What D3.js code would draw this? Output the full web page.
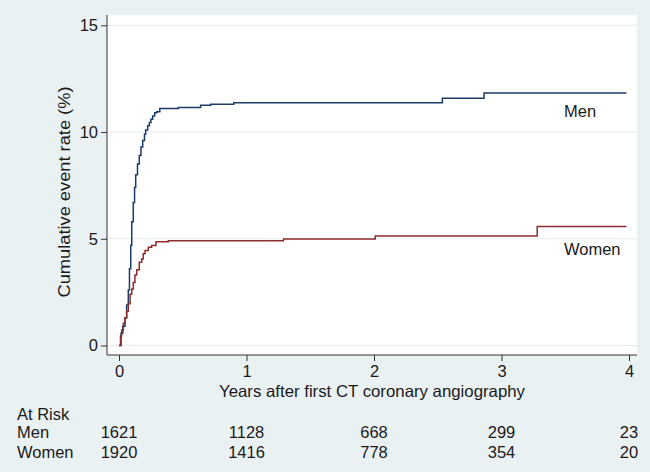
<!DOCTYPE html>
<html>
<head>
<meta charset="utf-8">
<script src="https://cdn.jsdelivr.net/npm/d3@7"></script>
<style>
  html, body { margin: 0; padding: 0; background: #eaf1f3; }
  svg { display: block; }
  text { font-family: "Liberation Sans", Arial, sans-serif; fill: #1a1a1a; }
</style>
</head>
<body>
<svg id="chart" width="650" height="472"></svg>
<script>
// ---- data ----
const menTimes  = [0, 0.016, 0.03, 0.047, 0.06, 0.073, 0.082, 0.092, 0.1, 0.112, 0.122, 0.131, 0.145, 0.159, 0.172, 0.186, 0.2, 0.209, 0.225, 0.238, 0.25, 0.264, 0.28, 0.296, 0.32, 0.465, 0.64, 0.72, 0.9, 2.536, 2.863, 3.98];
const menValues = [0, 0.57, 0.9, 1.3, 1.9, 2.6, 3.6, 4.7, 5.8, 6.7, 7.4, 8.0, 8.5, 8.9, 9.3, 9.6, 9.9, 10.1, 10.3, 10.45, 10.6, 10.75, 10.9, 10.95, 11.1, 11.15, 11.26, 11.3, 11.37, 11.58, 11.83, 11.83];
const womenTimes  = [0, 0.012, 0.021, 0.034, 0.047, 0.06, 0.073, 0.087, 0.1, 0.112, 0.125, 0.139, 0.159, 0.178, 0.19, 0.204, 0.23, 0.256, 0.29, 0.387, 1.29, 2.01, 3.28, 3.98];
const womenValues = [0, 0.45, 0.73, 1.04, 1.3, 1.6, 1.95, 2.4, 2.65, 2.95, 3.3, 3.55, 3.9, 4.05, 4.3, 4.45, 4.6, 4.68, 4.86, 4.91, 4.99, 5.13, 5.58, 5.58];
const yTicks = [0, 5, 10, 15];
const xTicks = [0, 1, 2, 3, 4];
const riskGroups = ["Men", "Women"];
const riskMen   = [1621, 1128, 668, 299, 23];
const riskWomen = [1920, 1416, 778, 354, 20];
const seriesNames = ["Men", "Women"];
const seriesColors = ["#1d3c6a", "#8e2b2b"];

// ---- layout ----
const svg = d3.select("#chart");
const plotL = 107, plotR = 637, plotT = 15, plotB = 355;
const x = d3.scaleLinear().domain([0, 4]).range([119, 629]);
const y = d3.scaleLinear().domain([0, 15]).range([345.5, 25.3]);
const fs = "16.5px";

// plot region
svg.append("rect").attr("x", plotL).attr("y", plotT)
  .attr("width", plotR - plotL).attr("height", plotB - plotT).attr("fill", "#ffffff");

// gridlines
svg.append("g").selectAll("line").data(yTicks).join("line")
  .attr("x1", plotL).attr("x2", plotR)
  .attr("y1", d => y(d)).attr("y2", d => y(d))
  .attr("stroke", "#e4ecee").attr("stroke-width", 1);

// y axis
const yAxis = d3.axisLeft(y).tickValues(yTicks).tickFormat(d3.format("d"))
  .tickSize(6).tickPadding(3).tickSizeOuter(0);
const gy = svg.append("g").attr("transform", `translate(${plotL},0)`).call(yAxis);
gy.select(".domain").remove();
gy.append("line").attr("x1", 0).attr("x2", 0).attr("y1", plotT).attr("y2", plotB)
  .attr("stroke", "#333").attr("stroke-width", 1);
gy.selectAll(".tick line").attr("stroke", "#333");
gy.selectAll(".tick text").style("font-size", fs).attr("fill", "#1a1a1a")
  .attr("font-family", "Liberation Sans, Arial, sans-serif");

// x axis
const xAxis = d3.axisBottom(x).tickValues(xTicks).tickFormat(d3.format("d"))
  .tickSize(6).tickPadding(4).tickSizeOuter(0);
const gx = svg.append("g").attr("transform", `translate(0,${plotB})`).call(xAxis);
gx.select(".domain").remove();
gx.append("line").attr("x1", plotL).attr("x2", plotR).attr("y1", 0).attr("y2", 0)
  .attr("stroke", "#333").attr("stroke-width", 1);
gx.selectAll(".tick line").attr("stroke", "#333");
gx.selectAll(".tick text").style("font-size", fs).attr("fill", "#1a1a1a")
  .attr("font-family", "Liberation Sans, Arial, sans-serif");

// axis titles
svg.append("text").attr("x", 372).attr("y", 397).attr("text-anchor", "middle")
  .style("font-size", fs).attr("textLength", 306).attr("lengthAdjust", "spacingAndGlyphs")
  .text("Years after first CT coronary angiography");
svg.append("text").attr("transform", "translate(70,192) rotate(-90)")
  .attr("text-anchor", "middle").style("font-size", fs)
  .attr("textLength", 211).attr("lengthAdjust", "spacingAndGlyphs")
  .text("Cumulative event rate (%)");

// curves
const line = d3.line().x(d => x(d[0])).y(d => y(d[1])).curve(d3.curveStepAfter);
const menData = menTimes.map((t, i) => [t, menValues[i]]);
const womenData = womenTimes.map((t, i) => [t, womenValues[i]]);
[menData, womenData].forEach((data, i) => {
  svg.append("path").datum(data).attr("d", line)
    .attr("fill", "none").attr("stroke", seriesColors[i]).attr("stroke-width", 1.5);
});

// series labels
svg.append("text").attr("x", 564).attr("y", 117).style("font-size", fs).text(seriesNames[0]);
svg.append("text").attr("x", 564).attr("y", 255).style("font-size", fs).text(seriesNames[1]);

// at risk table
svg.append("text").attr("x", 17).attr("y", 420).style("font-size", fs).text("At Risk");
const rows = [riskMen, riskWomen];
const rowY = [438, 458];
rows.forEach((vals, r) => {
  svg.append("text").attr("x", 17).attr("y", rowY[r]).style("font-size", fs).text(riskGroups[r]);
  svg.append("g").selectAll("text").data(vals).join("text")
    .attr("x", (d, i) => x(xTicks[i])).attr("y", rowY[r])
    .attr("text-anchor", "middle").style("font-size", fs).text(d => d);
});
</script>
</body>
</html>
